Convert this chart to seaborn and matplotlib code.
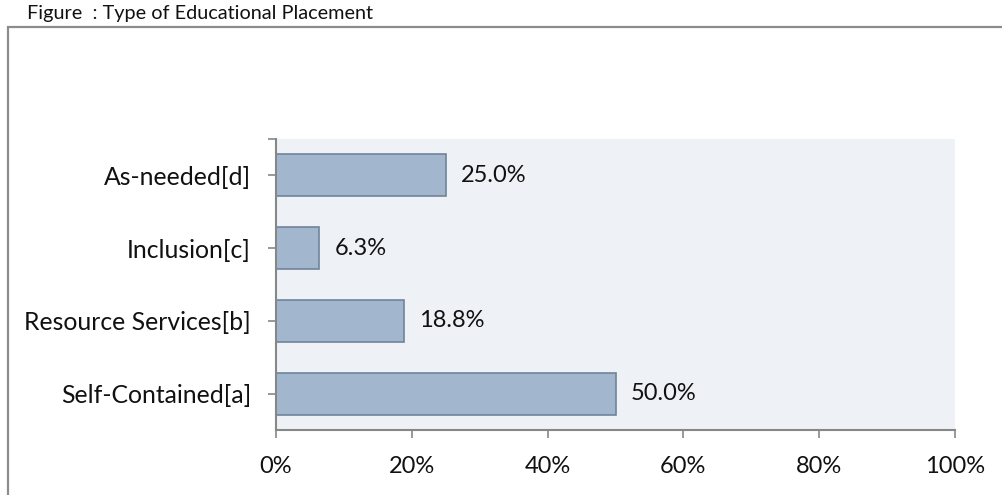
import matplotlib
matplotlib.use("Agg")
import matplotlib.pyplot as plt
import matplotlib.patches as mpatches
import seaborn as sns
import pandas as pd

categories = ["As-needed[d]", "Inclusion[c]", "Resource Services[b]", "Self-Contained[a]"]
values = [25.0, 6.3, 18.8, 50.0]
x_ticks = [0, 20, 40, 60, 80, 100]
x_tick_labels = ["0%", "20%", "40%", "60%", "80%", "100%"]
title_text = "Figure  : Type of Educational Placement"

sns.set_theme(style="white")
plt.rcParams["font.family"] = ["Lato", "DejaVu Sans"]

df = pd.DataFrame({"category": categories, "value": values})

fig = plt.figure(figsize=(10.03, 4.95), dpi=100)
W, H = 1003, 495
ax = fig.add_axes([276 / W, 1 - 430 / H, (955 - 276) / W, (430 - 139) / H])
ax.set_facecolor("#EEF2F6")

sns.barplot(data=df, x="value", y="category", order=categories, orient="h",
            color="#A2B7CE", edgecolor="#6F8499", linewidth=1.2, width=0.58,
            saturation=1, ax=ax)

ax.set_xlim(0, 100)
ax.set_ylim(3.5, -0.5)
ax.set_xticks(x_ticks)
ax.set_xticklabels(x_tick_labels)
ax.set_xlabel("")
ax.set_ylabel("")

fs = 17
for i, v in enumerate(values):
    ax.text(v + 2.3, i, f"{v:.1f}%", va="center", ha="left", fontsize=fs, color="#111111")

for side in ["top", "right"]:
    ax.spines[side].set_visible(False)
for side in ["left", "bottom"]:
    ax.spines[side].set_color("#878787")
    ax.spines[side].set_linewidth(1.5)

ax.set_yticks([-0.5], minor=True)
ax.tick_params(axis="y", which="both", direction="out", length=6, width=1.2, color="#878787",
               labelsize=17.8, labelcolor="#111111", left=True, pad=12)
ax.tick_params(axis="x", direction="out", length=6, width=1.2, color="#878787",
               labelsize=fs, labelcolor="#111111", bottom=True, pad=13)

# outer chart frame
frame = mpatches.Rectangle((8 / W, -0.1), 1.2, 1 - 27 / H + 0.1, transform=fig.transFigure,
                           fill=False, edgecolor="#8C8C8C", linewidth=1.6, clip_on=False)
fig.patches.append(frame)

fig.text(27 / W, 1 - 14 / H, title_text, ha="left", va="center", fontsize=14.3, color="#111111")

fig.savefig("out.png", dpi=100)
